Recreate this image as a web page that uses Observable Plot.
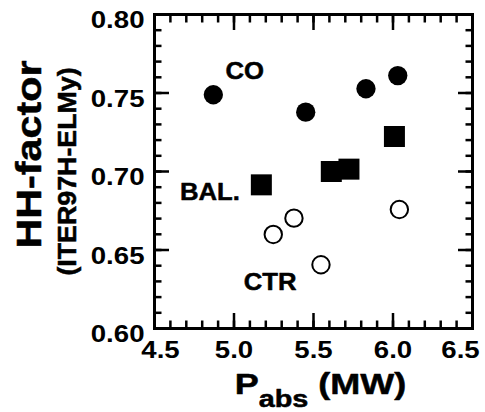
<!DOCTYPE html>
<html><head><meta charset="utf-8">
<script src="https://cdn.jsdelivr.net/npm/d3@7"></script>
<script src="https://cdn.jsdelivr.net/npm/@observablehq/plot@0.6"></script>
<style>body{margin:0;background:#fff}</style>
</head><body><div id="chart"></div>
<script>
// CO (filled circles)
const coX = [4.870, 5.451, 5.830, 6.030];
const coY = [0.7489, 0.7378, 0.7527, 0.7611];
// BAL. (filled squares)
const balX = [5.172, 5.612, 5.723, 6.009];
const balY = [0.6915, 0.7000, 0.7015, 0.7223];
// CTR (open circles)
const ctrX = [5.247, 5.377, 5.547, 6.040];
const ctrY = [0.6599, 0.6703, 0.6406, 0.6758];
// series labels placed in data space
const seriesLabels = ["CO", "BAL.", "CTR"];
const labelX = [5.067, 4.849, 5.227];
const labelY = [0.7640, 0.6869, 0.6293];
// ticks
const xMajor = [4.5, 5.0, 5.5, 6.0, 6.5];
const xTickLabels = ["4.5", "5.0", "5.5", "6.0", "6.5"];
const xMinor = [4.5,4.6,4.7,4.8,4.9,5.0,5.1,5.2,5.3,5.4,5.5,5.6,5.7,5.8,5.9,6.0,6.1,6.2,6.3,6.4,6.5];
const yMajor = [0.60, 0.65, 0.70, 0.75, 0.80];
const yTickLabels = ["0.60", "0.65", "0.70", "0.75", "0.80"];
const yMinor = [0.60,0.61,0.62,0.63,0.64,0.65,0.66,0.67,0.68,0.69,0.70,0.71,0.72,0.73,0.74,0.75,0.76,0.77,0.78,0.79,0.80];
const yTitle = "HH-factor";
const ySubTitle = "(ITER97H-ELMy)";
const xTitleMain = "P", xTitleSub = "abs", xTitleUnit = " (MW)";

const co = coX.map((x, i) => ({x, y: coY[i]}));
const bal = balX.map((x, i) => ({x, y: balY[i]}));
const ctr = ctrX.map((x, i) => ({x, y: ctrY[i]}));
const labels = seriesLabels.map((t, i) => ({t, x: labelX[i], y: labelY[i]}));

const tk = {stroke: "black", strokeWidth: 2.5, fill: "none", label: null};
const xfmt = d => xTickLabels[xMajor.indexOf(d)];
const yfmt = d => yTickLabels[yMajor.indexOf(d)];
const bold = {fontWeight: "bold", fill: "black", stroke: "black", strokeWidth: 0.5};
const lab = {fontSize: 24, ...bold, label: null, tickSize: 0};

const svg = Plot.plot({
  width: 485, height: 412,
  marginLeft: 154, marginRight: 13, marginTop: 14, marginBottom: 84,
  style: {fontFamily: "'Liberation Sans', Arial, Helvetica, sans-serif", fontWeight: "bold", background: "white", color: "black"},
  x: {domain: [4.5, 6.5]},
  y: {domain: [0.60, 0.80]},
  marks: [
    Plot.axisX(xMinor, {anchor: "bottom", tickSize: -7.5, ...tk}),
    Plot.axisX(xMinor, {anchor: "top", tickSize: -7.5, ...tk}),
    Plot.axisX(xMajor, {anchor: "bottom", tickSize: -15, ...tk}),
    Plot.axisX(xMajor, {anchor: "top", tickSize: -15, ...tk}),
    Plot.axisY(yMinor, {anchor: "left", tickSize: -7.5, ...tk}),
    Plot.axisY(yMinor, {anchor: "right", tickSize: -7.5, ...tk}),
    Plot.axisY(yMajor, {anchor: "left", tickSize: -15, ...tk}),
    Plot.axisY(yMajor, {anchor: "right", tickSize: -15, ...tk}),
    Plot.axisX(xMajor.slice(1, 4), {anchor: "bottom", tickPadding: 12, tickFormat: xfmt, ...lab}),
    Plot.axisX(xMajor.slice(0, 1), {anchor: "bottom", tickPadding: 12, dx: 6, tickFormat: xfmt, ...lab}),
    Plot.axisX(xMajor.slice(4), {anchor: "bottom", tickPadding: 12, dx: -12, tickFormat: xfmt, ...lab}),
    Plot.axisY(yMajor, {anchor: "left", tickPadding: 10, dy: 6, tickFormat: yfmt, ...lab}),
    Plot.frame({stroke: "black", strokeWidth: 3}),
    Plot.dot(co, {x: "x", y: "y", r: 9.65, fill: "black", symbol: "circle"}),
    Plot.dot(bal, {x: "x", y: "y", r: 11.85, fill: "black", symbol: "square"}),
    Plot.dot(ctr, {x: "x", y: "y", r: 8.7, fill: "white", stroke: "black", strokeWidth: 2}),
    Plot.text(labels, {x: "x", y: "y", text: "t", fontSize: 24, ...bold}),
    Plot.text([yTitle], {frameAnchor: "left", textAnchor: "middle", rotate: -90, dx: -114, dy: -17, lineAnchor: "bottom", fontSize: 35, ...bold}),
    Plot.text([ySubTitle], {frameAnchor: "left", textAnchor: "middle", rotate: -90, dx: -79, dy: 0, lineAnchor: "bottom", fontSize: 26, ...bold}),
    Plot.text([xTitleMain], {frameAnchor: "bottom", textAnchor: "middle", dx: 7, dy: 65, lineAnchor: "bottom", fontSize: 30, ...bold})
  ]
});

function stretch(nodes, s) {
  nodes.forEach(t => {
    const tr = t.getAttribute("transform") || "";
    t.setAttribute("transform", tr + ` scale(${s},1)`);
  });
}
const textGroups = svg.querySelectorAll('g[aria-label="text"]');
const [gSeries, gYTitle, gYSub, gXTitle] = textGroups;
// x title with subscript
const xt = gXTitle && gXTitle.querySelector("text");
if (xt) {
  xt.textContent = "";
  const ns = "http://www.w3.org/2000/svg";
  const a = document.createElementNS(ns, "tspan"); a.textContent = xTitleMain; xt.appendChild(a);
  const b = document.createElementNS(ns, "tspan"); b.textContent = xTitleSub; b.setAttribute("dy", "13.5"); b.setAttribute("font-size", "24"); xt.appendChild(b);
  const c = document.createElementNS(ns, "tspan"); c.textContent = xTitleUnit; c.setAttribute("dy", "-13.5"); xt.appendChild(c);
}
stretch(svg.querySelectorAll('g[aria-label="x-axis tick label"] text'), 1.15);
stretch(svg.querySelectorAll('g[aria-label="y-axis tick label"] text'), 1.15);
if (gSeries) stretch(gSeries.querySelectorAll("text"), 1.07);
if (gYTitle) stretch(gYTitle.querySelectorAll("text"), 1.18);
if (gYSub) stretch(gYSub.querySelectorAll("text"), 1.03);
if (gXTitle) stretch(gXTitle.querySelectorAll("text"), 1.2);
document.getElementById("chart").appendChild(svg);
</script>
</body></html>
